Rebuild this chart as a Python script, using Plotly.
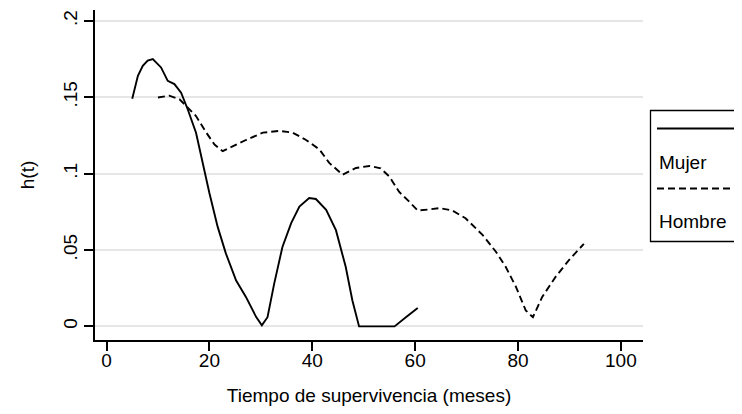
import plotly.graph_objects as go

# ---- data ----
mujer_t = [5, 6.1, 7.05, 8, 9, 10.6, 11.9, 13.2, 14.5, 15.8, 17.4, 18.7, 20, 21.6, 23.2, 25.2,
           27.1, 29.1, 30.2, 31.3, 32.6, 34.2, 35.9, 37.5, 39.4, 40.7, 42.7, 44.6, 46.5, 47.8,
           49.1, 52, 56, 58.2, 60.5]
mujer_h = [.149, .164, .1706, .174, .175, .1695, .1607, .1586, .153, .142, .1268, .107, .0873,
           .0653, .0478, .030, .0193, .0061, .0007, .006, .028, .052, .0676, .0785, .084, .0834,
           .0763, .063, .039, .017, 0, 0, 0, .006, .012]

hombre_t = [10, 12.2, 14.2, 15.8, 17.4, 19.4, 21, 22.6, 24.5, 27.1, 30.4, 33.6, 36.2, 38.8,
            41.4, 43.3, 45.9, 48.5, 51.1, 53.3, 55, 56.9, 58.8, 60.5, 62.5, 64.7, 67.2, 69.8,
            73.1, 75.7, 77.6, 79.6, 81.5, 82.9, 84.7, 87.3, 89.9, 92.8]
hombre_h = [.1498, .151, .1487, .143, .1377, .1268, .119, .1147, .118, .122, .1268, .128,
            .1268, .122, .1158, .107, .0993, .1037, .105, .1035, .098, .088, .0818, .0759,
            .0765, .0774, .0759, .0708, .0599, .0489, .039, .0259, .0105, .006, .0193, .0324,
            .0434, .054]

x_ticks = [0, 20, 40, 60, 80, 100]
x_tick_labels = ["0", "20", "40", "60", "80", "100"]
y_ticks = [0, 0.05, 0.1, 0.15, 0.2]
y_tick_labels = ["0", ".05", ".1", ".15", ".2"]

series_names = ["Mujer", "Hombre"]
x_title = "Tiempo de supervivencia (meses)"
y_title = "h(t)"

# ---- layout geometry (page has an 8px body margin, so work in page coords - 8) ----
OFF = 8
W, H = 742 - OFF, 414 - OFF
L, R, T, B = 95 - OFF, 643 - OFF, 10 - OFF, 340 - OFF
FONT = "Liberation Sans, Arial, sans-serif"
FS = 19


def px(xp):
    return (xp - OFF - L) / (R - L)


def py(yp):
    return (B - (yp - OFF)) / (B - T)


fig = go.Figure()
fig.add_trace(go.Scatter(x=mujer_t, y=mujer_h, mode="lines", name=series_names[0],
                         line=dict(color="black", width=1.9), showlegend=False))
fig.add_trace(go.Scatter(x=hombre_t, y=hombre_h, mode="lines", name=series_names[1],
                         line=dict(color="black", width=1.9, dash="7px,4px"), showlegend=False))

# legend drawn as a box (Stata style: key above label)
shapes = [
    dict(type="rect", xref="paper", yref="paper", x0=px(650.5), x1=px(741), y0=py(241.5), y1=py(110.5),
         line=dict(color="black", width=1.3), fillcolor="white"),
    dict(type="line", xref="paper", yref="paper", x0=px(657), x1=px(736), y0=py(128.5), y1=py(128.5),
         line=dict(color="black", width=1.9)),
    dict(type="line", xref="paper", yref="paper", x0=px(657), x1=px(736), y0=py(188.5), y1=py(188.5),
         line=dict(color="black", width=1.9, dash="7px,4px")),
]
annotations = [
    dict(text=series_names[0], xref="paper", yref="paper", x=px(657), y=py(162), xanchor="left",
         yanchor="middle", showarrow=False, font=dict(family=FONT, size=FS, color="black")),
    dict(text=series_names[1], xref="paper", yref="paper", x=px(657), y=py(221), xanchor="left",
         yanchor="middle", showarrow=False, font=dict(family=FONT, size=FS, color="black")),
]

fig.update_layout(
    width=W, height=H,
    margin=dict(l=L, r=W - R, t=T, b=H - B),
    paper_bgcolor="white", plot_bgcolor="white",
    font=dict(family=FONT, size=FS, color="black"),
    shapes=shapes, annotations=annotations,
    showlegend=False,
)
fig.update_xaxes(
    range=[-2.24, 104.3], tickvals=x_ticks, ticktext=x_tick_labels,
    showline=True, linecolor="black", linewidth=1.6, mirror=False,
    ticks="outside", ticklen=9, tickwidth=1.6, tickcolor="black",
    ticklabelstandoff=-7,
    showgrid=False, zeroline=False,
    title=dict(text=x_title, standoff=19, font=dict(size=FS)),
)
fig.update_yaxes(
    range=[-0.0089, 0.2071], tickvals=y_ticks, ticktext=y_tick_labels, tickangle=-90,
    showline=True, linecolor="black", linewidth=1.6,
    ticks="outside", ticklen=9, tickwidth=1.6, tickcolor="black",
    showgrid=True, gridcolor="#e6e6e6", gridwidth=1.5, zeroline=False,
    title=dict(text=y_title, standoff=20, font=dict(size=FS)),
)

fig.write_html("out.html")
